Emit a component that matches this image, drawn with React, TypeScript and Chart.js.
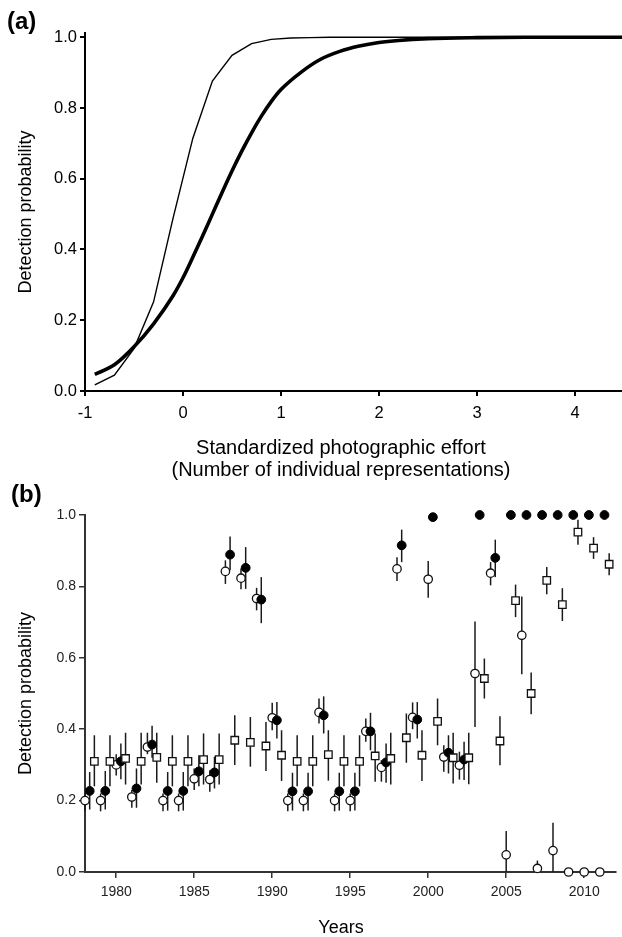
import React, { useEffect, useRef } from 'react';
import { Chart, registerables } from 'chart.js';

Chart.register(...registerables);

const FONT = "'Liberation Sans', Arial, Helvetica, sans-serif";

// ---------- Panel (a) data ----------
const effortTicks = [-1, 0, 1, 2, 3, 4];
const probTicks = [0, 0.2, 0.4, 0.6, 0.8, 1.0];

const thinEffort = [-0.9, -0.7, -0.5, -0.3, -0.1, 0.1, 0.3, 0.5, 0.7, 0.9, 1.1, 1.3, 1.5, 1.7, 1.9, 2.5, 3.0, 3.5, 4.0, 4.5];
const thinProb = [0.017, 0.045, 0.12, 0.252, 0.49, 0.714, 0.876, 0.949, 0.982, 0.994, 0.998, 0.999, 1, 1, 1, 1, 1, 1, 1, 1];

const thickEffort = [-0.9, -0.7, -0.5, -0.3, -0.1, 0, 0.1, 0.2, 0.3, 0.4, 0.5, 0.6, 0.7, 0.8, 0.9, 1.0, 1.2, 1.4, 1.6, 1.8, 2.0, 2.2, 2.5, 3.0, 3.5, 4.0, 4.5];
const thickProb = [0.047, 0.074, 0.125, 0.19, 0.27, 0.32, 0.378, 0.438, 0.5, 0.562, 0.622, 0.678, 0.73, 0.777, 0.818, 0.852, 0.9, 0.937, 0.96, 0.975, 0.985, 0.991, 0.996, 0.999, 1, 1, 1];

// ---------- Panel (b) data ----------
const years = [1978, 1979, 1980, 1981, 1982, 1983, 1984, 1985, 1986, 1987, 1988, 1989, 1990, 1991, 1992, 1993, 1994, 1995, 1996, 1997, 1998, 1999, 2000, 2001, 2002, 2003, 2004, 2005, 2006, 2007, 2008, 2009, 2010, 2011];
const yearTicks = [1980, 1985, 1990, 1995, 2000, 2005, 2010];

const openProb = [0.20, 0.20, 0.30, 0.21, 0.35, 0.20, 0.20, 0.261, 0.259, 0.842, 0.823, 0.766, 0.432, 0.20, 0.20, 0.447, 0.20, 0.20, 0.394, 0.293, 0.849, 0.433, 0.82, 0.322, 0.299, 0.556, 0.837, 0.048, 0.663, 0.01, 0.06, 0, 0, 0];
const openLow = [0.17, 0.17, 0.27, 0.18, 0.33, 0.17, 0.17, 0.23, 0.225, 0.807, 0.792, 0.733, 0.397, 0.17, 0.17, 0.416, 0.17, 0.17, 0.365, 0.253, 0.815, 0.40, 0.768, 0.281, 0.259, 0.406, 0.803, 0, 0.554, 0, 0, 0, 0, 0];
const openHigh = [0.22, 0.22, 0.33, 0.23, 0.39, 0.22, 0.22, 0.29, 0.285, 0.873, 0.85, 0.796, 0.474, 0.22, 0.22, 0.486, 0.22, 0.22, 0.43, 0.313, 0.882, 0.475, 0.871, 0.355, 0.337, 0.702, 0.868, 0.115, 0.772, 0.032, 0.138, 0, 0, 0];

const filledProb = [0.227, 0.227, 0.31, 0.234, 0.357, 0.227, 0.227, 0.282, 0.279, 0.889, 0.852, 0.763, 0.425, 0.226, 0.226, 0.439, 0.226, 0.226, 0.394, 0.307, 0.915, 0.427, 0.994, 0.334, 0.315, 1.0, 0.88, 1.0, 1.0, 1.0, 1.0, 1.0, 1.0, 1.0];
const filledLow = [0.175, 0.175, 0.26, 0.18, 0.32, 0.172, 0.172, 0.24, 0.234, 0.845, 0.793, 0.697, 0.374, 0.172, 0.172, 0.388, 0.172, 0.172, 0.341, 0.25, 0.868, 0.374, 0.994, 0.276, 0.258, 1.0, 0.826, 1.0, 1.0, 1.0, 1.0, 1.0, 1.0, 1.0];
const filledHigh = [0.28, 0.283, 0.36, 0.29, 0.41, 0.28, 0.28, 0.327, 0.323, 0.94, 0.91, 0.826, 0.476, 0.278, 0.278, 0.492, 0.278, 0.278, 0.446, 0.36, 0.959, 0.476, 0.994, 0.383, 0.365, 1.0, 0.931, 1.0, 1.0, 1.0, 1.0, 1.0, 1.0, 1.0];

const squareProb = [0.31, 0.31, 0.318, 0.31, 0.321, 0.31, 0.31, 0.315, 0.315, 0.369, 0.363, 0.353, 0.327, 0.31, 0.31, 0.329, 0.31, 0.31, 0.325, 0.318, 0.376, 0.327, 0.422, 0.32, 0.32, 0.542, 0.367, 0.76, 0.50, 0.817, 0.749, 0.952, 0.907, 0.862];
const squareLow = [0.24, 0.24, 0.245, 0.245, 0.25, 0.24, 0.24, 0.245, 0.245, 0.30, 0.295, 0.283, 0.255, 0.24, 0.24, 0.256, 0.24, 0.24, 0.253, 0.245, 0.306, 0.255, 0.355, 0.248, 0.246, 0.486, 0.299, 0.714, 0.442, 0.778, 0.703, 0.917, 0.877, 0.831];
const squareHigh = [0.383, 0.383, 0.39, 0.39, 0.39, 0.383, 0.383, 0.388, 0.388, 0.439, 0.434, 0.42, 0.397, 0.383, 0.383, 0.397, 0.383, 0.383, 0.388, 0.39, 0.444, 0.397, 0.486, 0.39, 0.39, 0.598, 0.436, 0.805, 0.559, 0.854, 0.795, 0.987, 0.938, 0.893];

// horizontal dodge of the three series within a year
const OPEN_SHIFT = 0;
const FILLED_SHIFT = 0.3;
const SQUARE_SHIFT = 0.6;

const errorBarPlugin = {
  id: 'errorBars',
  beforeDatasetsDraw(chart: any) {
    const { ctx } = chart;
    const xs = chart.scales.x;
    const ys = chart.scales.y;
    ctx.save();
    ctx.strokeStyle = '#1a1a1a';
    ctx.lineWidth = 1.5;
    chart.data.datasets.forEach((ds: any) => {
      if (!ds.errLow) return;
      ds.data.forEach((p: any, i: number) => {
        const lo = ds.errLow[i];
        const hi = ds.errHigh[i];
        if (hi - lo <= 0) return;
        const px = xs.getPixelForValue(p.x);
        ctx.beginPath();
        ctx.moveTo(px, ys.getPixelForValue(lo));
        ctx.lineTo(px, ys.getPixelForValue(hi));
        ctx.stroke();
      });
    });
    ctx.restore();
  },
};

function PanelA() {
  const ref = useRef<HTMLCanvasElement>(null);
  useEffect(() => {
    const chart = new Chart(ref.current as HTMLCanvasElement, {
      type: 'line',
      data: {
        datasets: [
          {
            data: thickEffort.map((x, i) => ({ x, y: thickProb[i] })),
            borderColor: '#000',
            borderWidth: 3.6,
            pointRadius: 0,
            cubicInterpolationMode: 'monotone',
            fill: false,
          },
          {
            data: thinEffort.map((x, i) => ({ x, y: thinProb[i] })),
            borderColor: '#000',
            borderWidth: 1.4,
            pointRadius: 0,
            tension: 0,
            fill: false,
          },
        ],
      } as any,
      options: {
        animation: false,
        responsive: false,
        layout: { padding: { top: 33, left: 0, right: 0, bottom: 0 } },
        plugins: { legend: { display: false }, tooltip: { enabled: false } },
        scales: {
          x: {
            type: 'linear',
            min: -1,
            max: 4.48,
            afterBuildTicks: (s: any) => { s.ticks = effortTicks.map((v) => ({ value: v })); },
            afterFit: (s: any) => { s.height = 94; },
            ticks: {
              color: '#000',
              padding: 8,
              maxRotation: 0,
              autoSkip: false,
              font: { family: FONT, size: 16.5 },
              callback: (v: any) => String(v),
            },
            grid: { display: true, drawOnChartArea: false, drawTicks: true, tickLength: 5, color: '#000', lineWidth: 2 },
            border: { display: true, color: '#000', width: 2 },
          },
          y: {
            type: 'linear',
            min: 0,
            max: 1.012,
            afterBuildTicks: (s: any) => { s.ticks = probTicks.map((v) => ({ value: v })); },
            afterFit: (s: any) => { s.width = 85; },
            ticks: {
              color: '#000',
              padding: 3,
              font: { family: FONT, size: 16.5 },
              callback: (v: any) => Number(v).toFixed(1),
            },
            grid: { display: true, drawOnChartArea: false, drawTicks: true, tickLength: 5, color: '#000', lineWidth: 2 },
            border: { display: true, color: '#000', width: 2 },
            title: {
              display: true,
              text: 'Detection probability',
              color: '#000',
              font: { family: FONT, size: 18 },
              padding: { top: 15, bottom: 0 },
            },
          },
        },
      } as any,
    });
    return () => chart.destroy();
  }, []);
  return <canvas ref={ref} width={622} height={485} style={{ position: 'absolute', left: 0, top: 0, display: 'block' }} />;
}

function PanelB() {
  const ref = useRef<HTMLCanvasElement>(null);
  useEffect(() => {
    const chart = new Chart(ref.current as HTMLCanvasElement, {
      type: 'scatter',
      data: {
        datasets: [
          {
            data: years.map((yr, i) => ({ x: yr + SQUARE_SHIFT, y: squareProb[i] })),
            errLow: squareLow,
            errHigh: squareHigh,
            pointStyle: 'rect',
            pointRadius: 5.3,
            backgroundColor: '#fff',
            borderColor: '#111',
            borderWidth: 1.3,
            clip: false,
          },
          {
            data: years.map((yr, i) => ({ x: yr + FILLED_SHIFT, y: filledProb[i] })),
            errLow: filledLow,
            errHigh: filledHigh,
            pointStyle: 'circle',
            pointRadius: 4.4,
            backgroundColor: '#000',
            borderColor: '#000',
            borderWidth: 1,
            clip: false,
          },
          {
            data: years.map((yr, i) => ({ x: yr + OPEN_SHIFT, y: openProb[i] })),
            errLow: openLow,
            errHigh: openHigh,
            pointStyle: 'circle',
            pointRadius: 4.2,
            backgroundColor: '#fff',
            borderColor: '#111',
            borderWidth: 1.3,
            clip: false,
          },
        ],
      } as any,
      options: {
        animation: false,
        responsive: false,
        layout: { padding: { top: 30, left: 0, right: 0, bottom: 0 } },
        plugins: { legend: { display: false }, tooltip: { enabled: false } },
        scales: {
          x: {
            type: 'linear',
            min: 1978,
            max: 2012,
            afterBuildTicks: (s: any) => { s.ticks = yearTicks.map((v) => ({ value: v })); },
            afterFit: (s: any) => { s.height = 65; },
            ticks: {
              color: '#222',
              padding: 6,
              maxRotation: 0,
              autoSkip: false,
              font: { family: FONT, size: 14 },
              callback: (v: any) => String(v),
            },
            grid: { display: true, drawOnChartArea: false, drawTicks: true, tickLength: 6, color: '#333', lineWidth: 1.5 },
            border: { display: true, color: '#333', width: 2 },
          },
          y: {
            type: 'linear',
            min: 0,
            max: 1.0,
            afterBuildTicks: (s: any) => { s.ticks = probTicks.map((v) => ({ value: v })); },
            afterFit: (s: any) => { s.width = 85; },
            ticks: {
              color: '#222',
              padding: 3,
              font: { family: FONT, size: 14 },
              callback: (v: any) => Number(v).toFixed(1),
            },
            grid: { display: true, drawOnChartArea: false, drawTicks: true, tickLength: 6, color: '#333', lineWidth: 1.5 },
            border: { display: true, color: '#333', width: 2 },
            title: {
              display: true,
              text: 'Detection probability',
              color: '#000',
              font: { family: FONT, size: 18 },
              padding: { top: 15, bottom: 0 },
            },
          },
        },
      } as any,
      plugins: [errorBarPlugin],
    });
    return () => chart.destroy();
  }, []);
  return <canvas ref={ref} width={622} height={452} style={{ position: 'absolute', left: 0, top: 485, display: 'block' }} />;
}

export default function App() {
  const label: React.CSSProperties = {
    position: 'absolute',
    fontFamily: FONT,
    fontWeight: 'bold',
    fontSize: 24,
    lineHeight: '24px',
    color: '#000',
    whiteSpace: 'nowrap',
  };
  const xTitle: React.CSSProperties = {
    position: 'absolute',
    left: 0,
    width: 682,
    textAlign: 'center',
    fontFamily: FONT,
    color: '#000',
    whiteSpace: 'nowrap',
  };
  return (
    <div style={{ position: 'absolute', left: 0, top: 0, width: 622, height: 937, background: '#fff', overflow: 'hidden' }}>
      <PanelA />
      <PanelB />
      <div style={{ ...label, left: 7, top: 9 }}>(a)</div>
      <div style={{ ...label, left: 11, top: 482 }}>(b)</div>
      <div style={{ ...xTitle, top: 436, fontSize: 20, lineHeight: '22px' }}>
        Standardized photographic effort
        <br />
        (Number of individual representations)
      </div>
      <div style={{ ...xTitle, top: 918, fontSize: 18, lineHeight: '18px' }}>Years</div>
    </div>
  );
}
